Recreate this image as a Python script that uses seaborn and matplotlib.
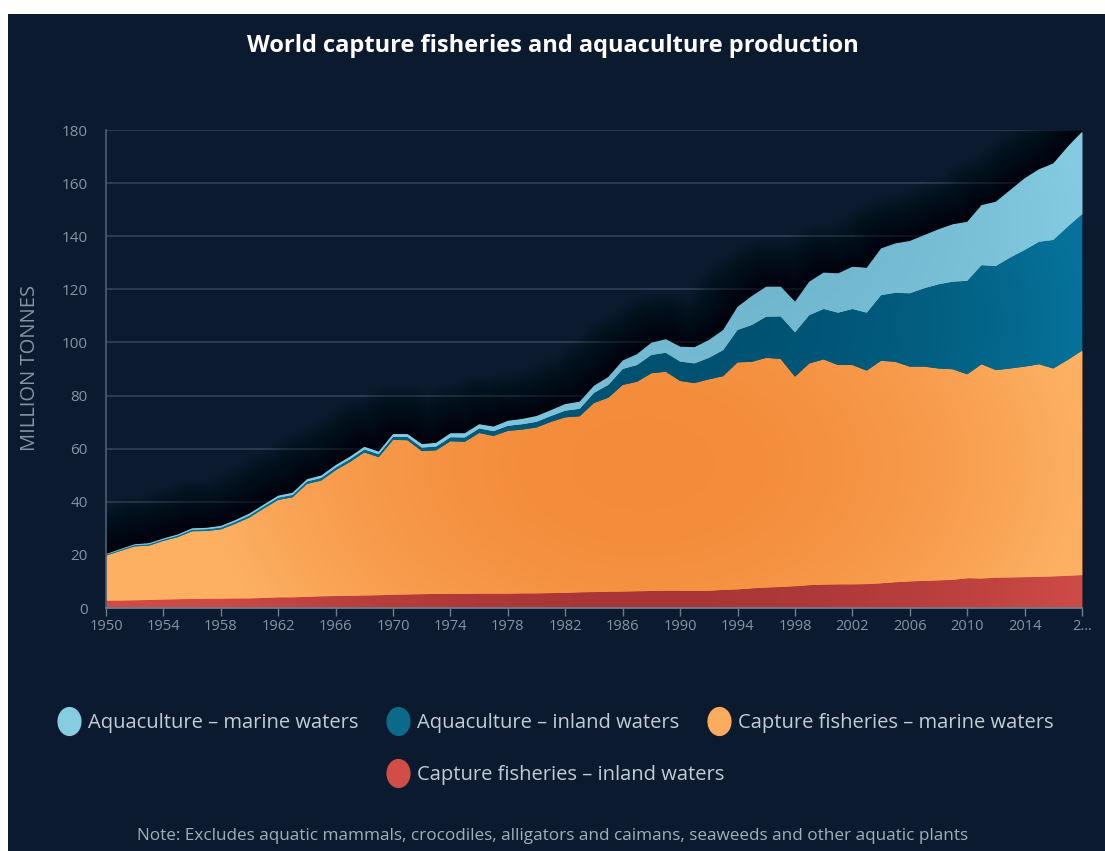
import numpy as np
import matplotlib
matplotlib.use("Agg")
import matplotlib.pyplot as plt
import seaborn as sns
import pandas as pd
from matplotlib.lines import Line2D
from matplotlib.patches import Rectangle
from matplotlib.path import Path

# ---------------- data (million tonnes) ----------------
years = list(range(1950, 2019))

capture_inland = [
    2.8, 2.8, 2.9, 3.0, 3.2, 3.3, 3.4, 3.5, 3.5, 3.6,
    3.6, 3.8, 4.0, 4.0, 4.2, 4.4, 4.5, 4.6, 4.7, 4.8,
    5.0, 5.1, 5.2, 5.3, 5.3, 5.3, 5.4, 5.4, 5.4, 5.5,
    5.5, 5.6, 5.7, 5.9, 6.0, 6.1, 6.2, 6.3, 6.4, 6.5,
    6.5, 6.4, 6.5, 6.8, 7.0, 7.4, 7.7, 7.9, 8.2, 8.6,
    8.8, 8.9, 8.9, 9.0, 9.3, 9.7, 10.0, 10.2, 10.4, 10.6,
    11.2, 11.1, 11.4, 11.5, 11.6, 11.7, 11.9, 12.1, 12.4]

capture_marine = [
    16.9, 18.7, 20.3, 20.5, 22.1, 23.4, 25.5, 25.5, 26.1, 28.1,
    30.5, 33.7, 36.7, 37.7, 42.5, 43.6, 47.4, 50.4, 53.9, 52.0,
    58.3, 58.1, 53.9, 54.1, 57.5, 57.3, 60.5, 59.4, 61.3, 61.7,
    62.5, 64.5, 66.1, 66.3, 71.2, 73.1, 77.8, 78.9, 82.0, 82.5,
    79.0, 78.3, 79.6, 80.5, 85.5, 85.3, 86.5, 85.9, 78.9, 83.5,
    84.8, 82.6, 82.6, 80.4, 83.8, 83.0, 80.9, 80.7, 79.8, 79.3,
    76.8, 80.7, 78.2, 78.7, 79.3, 80.1, 78.3, 81.3, 84.5]

aquaculture_inland = [
    0.35, 0.4, 0.45, 0.5, 0.5, 0.55, 0.6, 0.65, 0.7, 0.75,
    0.8, 0.8, 0.85, 0.9, 0.95, 1.0, 1.0, 1.05, 1.1, 1.1,
    1.15, 1.2, 1.3, 1.4, 1.5, 1.6, 1.7, 1.8, 1.9, 2.0,
    2.1, 2.2, 2.5, 2.8, 3.8, 4.8, 6.0, 6.3, 6.9, 7.1,
    7.3, 7.4, 8.1, 9.8, 12.2, 13.9, 15.5, 16.0, 16.7, 18.2,
    19.0, 19.7, 21.1, 21.8, 24.7, 26.0, 27.6, 29.5, 31.7, 33.0,
    35.2, 37.3, 39.2, 41.8, 43.9, 46.1, 48.4, 50.2, 51.4]

aquaculture_marine = [
    0.25, 0.3, 0.35, 0.4, 0.4, 0.45, 0.5, 0.55, 0.6, 0.65,
    0.7, 0.7, 0.75, 0.8, 0.85, 0.9, 0.9, 0.95, 1.0, 1.0,
    1.05, 1.1, 1.3, 1.4, 1.5, 1.6, 1.6, 1.7, 1.9, 2.0,
    2.2, 2.2, 2.5, 2.7, 2.7, 3.0, 3.2, 4.1, 4.6, 5.1,
    5.6, 6.1, 6.7, 7.6, 8.7, 10.9, 11.3, 11.2, 11.5, 12.6,
    13.7, 14.8, 15.9, 16.9, 17.6, 18.6, 19.7, 20.0, 20.7, 21.6,
    22.2, 22.6, 24.2, 25.4, 27.0, 27.3, 28.8, 30.1, 31.0]

legend_labels = ["Aquaculture – marine waters", "Aquaculture – inland waters",
                 "Capture fisheries – marine waters", "Capture fisheries – inland waters"]
x_tick_years = list(range(1950, 2015, 4)) + [2018]
x_tick_labels = [str(y) for y in range(1950, 2015, 4)] + ["2…"]
y_ticks = list(range(0, 181, 20))

title = "World capture fisheries and aquaculture production"
y_title = "MILLION TONNES"
note = "Note: Excludes aquatic mammals, crocodiles, alligators and caimans, seaweeds and other aquatic plants"

# ---------------- style ----------------
BG = "#0b1a2e"
GRID = "#34445a"
TICK = "#8694a6"
C_LIGHT = "#7fc6dd"
C_DARK = "#01587a"
C_ORANGE = "#f7943f"
C_RED = "#bd3f3e"
LEG_LIGHT = "#86cde2"
LEG_DARK = "#0b6a8a"
LEG_ORANGE = "#fdac5f"
LEG_RED = "#d14d48"

sns.set_theme(style="dark", rc={"axes.facecolor": BG, "figure.facecolor": BG})
plt.rcParams["font.family"] = ["Open Sans", "DejaVu Sans"]

W, H = 1105, 851
fig = plt.figure(figsize=(W / 100, H / 100), dpi=100)
fig.patch.set_facecolor(BG)
ax = fig.add_axes([106 / W, 1 - 608 / H, 976 / W, 478 / H])
ax.set_facecolor(BG)

df = pd.DataFrame({"year": years,
                   "ci": capture_inland, "cm": capture_marine,
                   "ai": aquaculture_inland, "am": aquaculture_marine})
df["total"] = df[["ci", "cm", "ai", "am"]].sum(axis=1)

# soft dark glow above the area (many faint strokes)
for lw in np.linspace(70, 4, 24):
    ax.plot(df["year"], df["total"], color="black", lw=lw, alpha=0.035, zorder=2,
            solid_joinstyle="round", solid_capstyle="round")

polys = ax.stackplot(df["year"], df["ci"], df["cm"], df["ai"], df["am"],
                     colors=[C_RED, C_ORANGE, C_DARK, C_LIGHT], linewidth=0, zorder=3)

# gradient fills clipped to each band
nx, ny = 400, 200
gx = np.linspace(0, 1, nx)[None, :]
gy = np.linspace(1, 0, ny)[:, None]


def grad(dark, light, cx=0.55, cy=0.35, kx=0.45, ky=0.7):
    d = np.array(matplotlib.colors.to_rgb(dark))
    l = np.array(matplotlib.colors.to_rgb(light))
    t = np.clip(((gx - cx) / kx) ** 2 + ((gy - cy) / ky) ** 2, 0, 1)
    return d[None, None, :] * (1 - t[..., None]) + l[None, None, :] * t[..., None]


grads = [grad("#a93636", "#cf4b47", cy=0.02, ky=2.0),
         grad("#f38b3a", "#fdb062", cy=0.3, ky=0.6),
         grad("#00506f", "#06729a", cy=0.6, ky=0.6),
         grad("#6cb3cb", "#84cbe1", cy=0.8, ky=0.5)]
for poly, img in zip(polys, grads):
    im = ax.imshow(img, extent=[1950, 2018, 0, 180], aspect="auto",
                   interpolation="bilinear", zorder=4)
    im.set_clip_path(poly.get_paths()[0], transform=ax.transData)

ax.set_xlim(1950, 2018)
ax.set_ylim(0, 180)
ax.set_aspect("auto")

ax.set_yticks(y_ticks)
ax.set_xticks(x_tick_years)
ax.set_xticklabels(x_tick_labels)
ax.grid(axis="y", color=GRID, lw=1.1, zorder=1)
ax.grid(axis="x", visible=False)
ax.set_axisbelow(True)
ax.tick_params(axis="y", length=0, pad=13, labelsize=11, labelcolor=TICK)
ax.tick_params(axis="x", bottom=True, length=6, width=1, color="#6c7c90", pad=2,
               labelsize=10.5, labelcolor=TICK)
for s in ["top", "right"]:
    ax.spines[s].set_visible(False)
ax.spines["left"].set_color("#4a5a70")
ax.spines["bottom"].set_color("#6c7c90")
ax.spines["left"].set_zorder(6)
ax.spines["bottom"].set_zorder(6)
ax.set_xlabel("")
ax.set_ylabel(y_title, color=TICK, fontsize=14.5)
ax.yaxis.set_label_coords((40 - 106) / 976, (608 - 368) / 478)

fig.text(0.5, 1 - 46 / H, title, ha="center", va="center", color="white",
         fontsize=17, fontweight="bold")
fig.text(553 / W, 1 - 836 / H, note, ha="center", va="center", color="#a3aebb",
         fontsize=12.3)

# legend with slightly oval markers
uc = Path.unit_circle()
oval = Path(uc.vertices * np.array([0.82, 1.0]), uc.codes)
leg_colors = [LEG_LIGHT, LEG_DARK, LEG_ORANGE, LEG_RED]
handles = [Line2D([], [], ls="", marker=oval, markersize=20, markerfacecolor=c,
                  markeredgecolor=c) for c in leg_colors]
leg1 = fig.legend(handles[:3], legend_labels[:3], loc="center",
                  bbox_to_anchor=(0.502, 1 - 723 / H), ncol=3, frameon=False,
                  fontsize=14.5, labelcolor="#c4ccd6", handletextpad=0.3,
                  columnspacing=1.3, handlelength=1.3)
leg2 = fig.legend(handles[3:], legend_labels[3:], loc="center",
                  bbox_to_anchor=(0.502, 1 - 775 / H), ncol=1, frameon=False,
                  fontsize=14.5, labelcolor="#c4ccd6", handletextpad=0.3,
                  handlelength=1.3)

# white border at top and left, as in the reference image
fig.patches.append(Rectangle((0, 1 - 14 / H), 1, 14 / H, transform=fig.transFigure,
                             facecolor="white", edgecolor="none", zorder=10))
fig.patches.append(Rectangle((0, 0), 8 / W, 1, transform=fig.transFigure,
                             facecolor="white", edgecolor="none", zorder=10))

fig.savefig("out.png", dpi=100, facecolor=fig.get_facecolor())
